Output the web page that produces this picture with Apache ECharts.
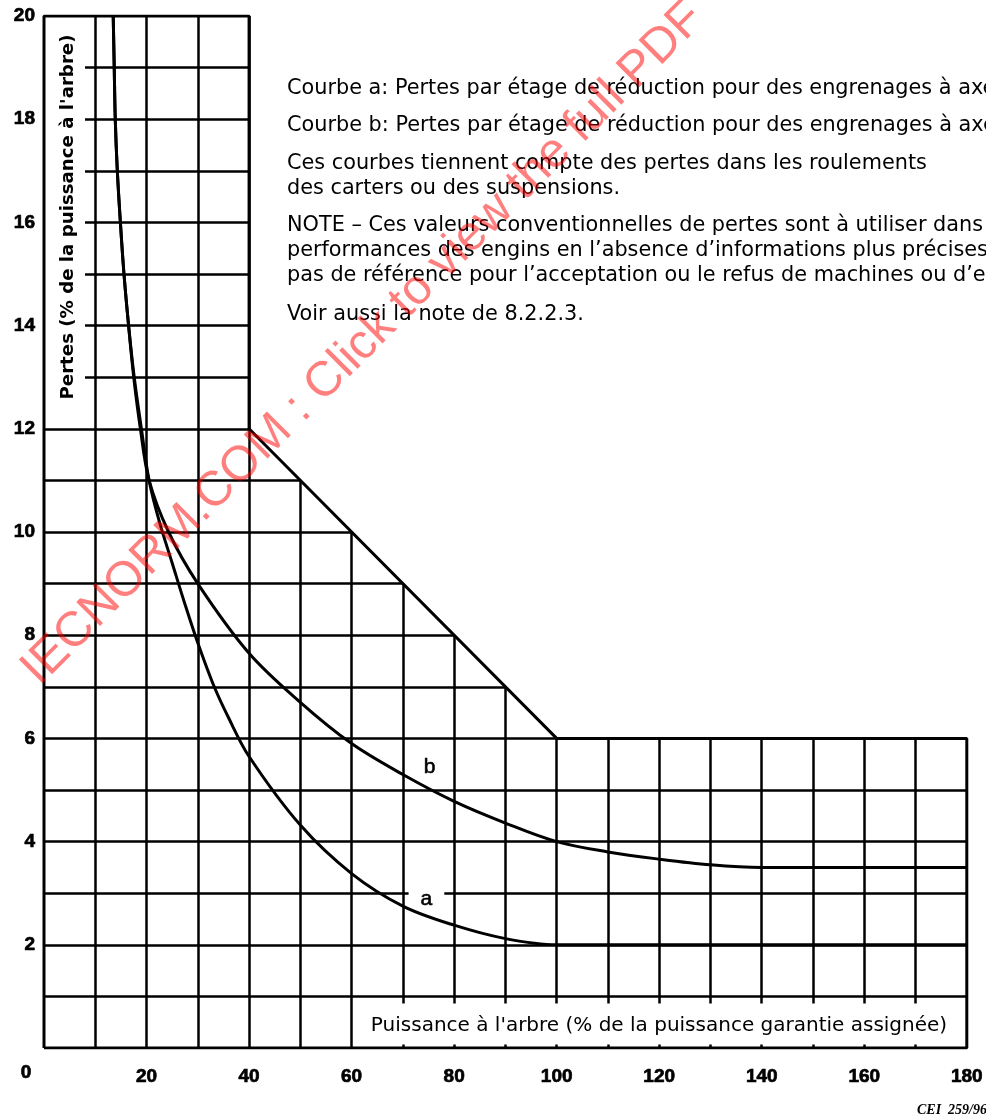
<!DOCTYPE html>
<html>
<head>
<meta charset="utf-8">
<script src="https://cdn.jsdelivr.net/npm/echarts@6/dist/echarts.min.js"></script>
<style>
  html, body { margin: 0; padding: 0; background: #fff; overflow: hidden; }
  #chart { width: 986px; height: 1117px; }
</style>
</head>
<body>
<div id="chart"></div>
<script>
// ---- axis ranges and tick spacing ----
const xRange = [0, 180];
const yRange = [0, 20];
const xTickStep = 20;
const yTickStep = 2;

// ---- grid line values ----
const gridXs = [10, 20, 30, 40, 50, 60, 70, 80, 90, 100, 110, 120, 130, 140, 150, 160, 170];
const gridYs = [1, 2, 3, 4, 5, 6, 7, 8, 9, 10, 11, 12, 13, 14, 15, 16, 17, 18, 19];

// ---- stepped outline of the diagram (upper edge runs from [0,20] to [180,6]) ----
const upperEdge = [[0, 20], [40, 20], [40, 12], [100, 6], [180, 6]];

// ---- curve a: losses per reduction stage (%), vs shaft power (%) ----
const curveA = [
  [13.5, 20], [13.7, 19], [13.9, 18], [14.3, 17], [14.9, 16], [15.6, 15],
  [16.5, 14], [17.6, 13], [19.0, 12], [20.5, 11], [22.5, 10.2], [25, 9.4],
  [27.5, 8.6], [30, 7.85], [33, 7.05], [36, 6.4], [40, 5.65], [50, 4.32],
  [60, 3.38], [70, 2.75], [80, 2.38], [90, 2.12], [100, 2.0], [180, 2.0]
];

// ---- curve b ----
const curveB = [
  [13.5, 20], [13.7, 19], [13.9, 18], [14.3, 17], [14.9, 16], [15.6, 15],
  [16.5, 14], [17.5, 13], [18.8, 12], [20.5, 11], [24.3, 10], [30, 9],
  [40, 7.65], [50, 6.7], [60, 5.9], [70, 5.3], [80, 4.78], [90, 4.36],
  [100, 4.0], [110, 3.8], [120, 3.66], [130, 3.55], [140, 3.5], [180, 3.5]
];

// ---- curve name tags ----
const curveTags = [['a', 74.6, 2.89], ['b', 75.2, 5.44]];

// ---- text ----
const xTitle = "Puissance à l'arbre (% de la puissance garantie assignée)";
const yTitle = "Pertes (% de la puissance à l'arbre)";
const noteLines = [
  "Courbe a: Pertes par étage de réduction pour des engrenages à axes parallèles",
  "Courbe b: Pertes par étage de réduction pour des engrenages à axes concourants",
  "Ces courbes tiennent compte des pertes dans les roulements",
  "des carters ou des suspensions.",
  "NOTE – Ces valeurs conventionnelles de pertes sont à utiliser dans les calculs de",
  "performances des engins en l’absence d’informations plus précises. Elles ne sont",
  "pas de référence pour l’acceptation ou le refus de machines ou d’engins.",
  "Voir aussi la note de 8.2.2.3."
];
const figureRef = "CEI  259/96";
const stampText = "IECNORM.COM : Click to view the full PDF";

// ---- layout (plot units) of the cleared title strips ----
const yTitleStrip = { x0: 0, x1: 8, y0: 12, y1: 20 };
const xTitleStrip = { x0: 60, x1: 180, y0: 0, y1: 1 };
const stubTop = 0.14, stubBottom = 0.07;

// height of the upper edge at a given x
function edgeTopAt(x) {
  let best = -Infinity;
  for (let i = 0; i < upperEdge.length - 1; i++) {
    const [x1, y1] = upperEdge[i], [x2, y2] = upperEdge[i + 1];
    if (x < Math.min(x1, x2) || x > Math.max(x1, x2)) continue;
    const y = x1 === x2 ? Math.max(y1, y2) : y1 + (y2 - y1) * (x - x1) / (x2 - x1);
    best = Math.max(best, y);
  }
  return best;
}
// right end of a horizontal grid line at height y
function edgeRightAt(y) {
  let best = -Infinity;
  for (let i = 0; i < upperEdge.length - 1; i++) {
    const [x1, y1] = upperEdge[i], [x2, y2] = upperEdge[i + 1];
    if (y1 === y2 || y < Math.min(y1, y2) || y > Math.max(y1, y2)) continue;
    best = Math.max(best, x1 + (x2 - x1) * (y - y1) / (y2 - y1));
  }
  return best === -Infinity ? xRange[1] : best;
}

// grid segments clipped to the stepped outline and the title strips
const gridSegments = [];
gridYs.forEach(y => {
  const inStrip = y > yTitleStrip.y0 && y < yTitleStrip.y1;
  const x0 = inStrip ? yTitleStrip.x1 : xRange[0];
  gridSegments.push({ coords: [[x0, y], [edgeRightAt(y), y]] });
});
gridXs.forEach(x => {
  const top = edgeTopAt(x);
  if (x > xTitleStrip.x0 && x < xTitleStrip.x1) {
    gridSegments.push({ coords: [[x, xTitleStrip.y1 - stubTop], [x, top]] });
    gridSegments.push({ coords: [[x, yRange[0]], [x, yRange[0] + stubBottom]] });
  } else {
    gridSegments.push({ coords: [[x, yRange[0]], [x, top]] });
  }
});
const outlinePath = [[xRange[0], yRange[0]]].concat(upperEdge, [[xRange[1], yRange[0]], [xRange[0], yRange[0]]]);

const FONT = "'Liberation Sans', Arial, Helvetica, sans-serif";
const WIDE = "'DejaVu Sans', Verdana, sans-serif";
const INK = '#000';

const chart = echarts.init(document.getElementById('chart'), null, { renderer: 'canvas', width: 986, height: 1117 });

const noteTops = [89, 126, 164, 189, 226, 251, 276, 315];

const tickLabel = {
  color: INK, fontFamily: FONT, fontWeight: 'bold', fontSize: 19,
  textBorderColor: INK, textBorderWidth: 0.7,
  formatter: v => (v === 0 ? '' : String(v))
};

const option = {
  animation: false,
  backgroundColor: '#fff',
  grid: { left: 44, top: 16, width: 929, height: 1032, containLabel: false },
  xAxis: {
    type: 'value', min: xRange[0], max: xRange[1], interval: xTickStep,
    axisLine: { show: false }, axisTick: { show: false }, splitLine: { show: false },
    axisLabel: Object.assign({ margin: 19 }, tickLabel)
  },
  yAxis: {
    type: 'value', min: yRange[0], max: yRange[1], interval: yTickStep,
    axisLine: { show: false }, axisTick: { show: false }, splitLine: { show: false },
    axisLabel: Object.assign({ margin: 9 }, tickLabel)
  },
  series: [
    {
      name: 'grid', type: 'lines', coordinateSystem: 'cartesian2d', z: 1,
      silent: true, polyline: false,
      lineStyle: { color: INK, width: 2.5, opacity: 1 },
      data: gridSegments
    },
    {
      name: 'outline', type: 'line', z: 2, silent: true, showSymbol: false,
      lineStyle: { color: INK, width: 3 },
      data: outlinePath
    },
    {
      name: 'tags', type: 'scatter', z: 3, symbolSize: 0, silent: true,
      itemStyle: { opacity: 1 },
      data: curveTags.map(t => ({ name: t[0], value: [t[1], t[2]] })),
      label: {
        show: true, position: 'inside', formatter: p => p.name, opacity: 1,
        color: INK, fontFamily: FONT, fontSize: 21, fontWeight: 'normal',
        textBorderColor: INK, textBorderWidth: 0.6,
        backgroundColor: '#fff', padding: [1, 12, 1, 12]
      }
    },
    {
      name: 'a', type: 'line', z: 4, smooth: 0.35, showSymbol: false, silent: true,
      lineStyle: { color: INK, width: 3 },
      data: curveA
    },
    {
      name: 'b', type: 'line', z: 4, smooth: 0.35, showSymbol: false, silent: true,
      lineStyle: { color: INK, width: 3 },
      data: curveB
    }
  ],
  graphic: [
    // axis titles
    {
      type: 'text', x: 659, y: 1026, z: 10,
      style: { text: xTitle, font: `20px ${WIDE}`, fill: INK, textAlign: 'center', textVerticalAlign: 'middle' }
    },
    {
      type: 'text', x: 68, y: 217, rotation: Math.PI / 2, z: 10,
      style: { text: yTitle, font: `bold 18.2px ${WIDE}`, fill: INK, textAlign: 'center', textVerticalAlign: 'middle' }
    },
    // shared origin label
    {
      type: 'text', x: 26, y: 1073, z: 10,
      style: { text: '0', font: `bold 19px ${FONT}`, fill: INK, stroke: INK, lineWidth: 0.7, textAlign: 'center', textVerticalAlign: 'middle' }
    },
    // figure reference
    {
      type: 'text', x: 917, y: 1110, z: 10,
      style: { text: figureRef, font: `italic bold 14px 'Liberation Serif', 'Times New Roman', serif`, fill: INK, textAlign: 'left', textVerticalAlign: 'middle' }
    },
    // explanatory notes
    ...noteLines.map((t, i) => ({
      type: 'text', x: 287, y: noteTops[i], z: 10,
      style: { text: t, font: `20.8px ${WIDE}`, fill: INK, textAlign: 'left', textVerticalAlign: 'middle' }
    })),
    // diagonal stamp
    {
      type: 'text', x: 30, y: 677, rotation: Math.PI / 4, z: 20,
      style: { text: stampText, font: `49px ${FONT}`, fill: 'rgba(255,0,0,0.5)', textAlign: 'left', textVerticalAlign: 'middle' }
    }
  ]
};

chart.setOption(option);
</script>
</body>
</html>
